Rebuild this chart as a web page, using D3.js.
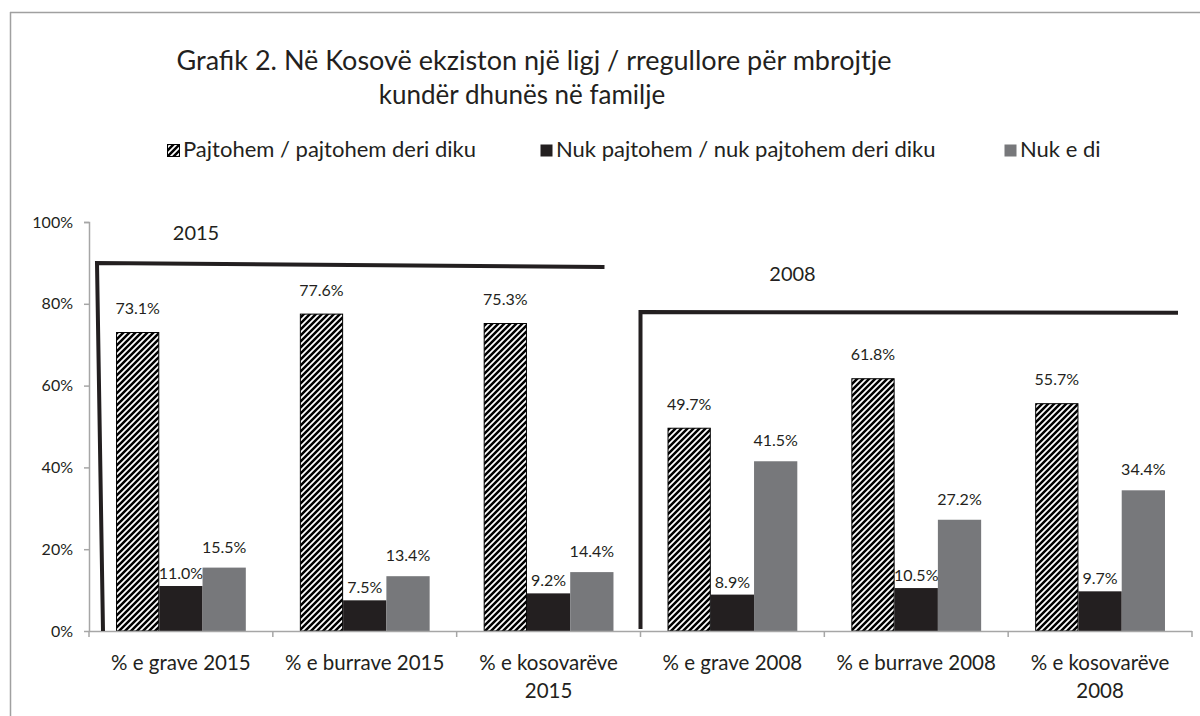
<!DOCTYPE html>
<html><head><meta charset="utf-8">
<script src="https://cdn.jsdelivr.net/npm/d3@7"></script>
<style>
html,body{margin:0;padding:0;background:#fff;}
svg{display:block;font-family:Lato, "Open Sans", sans-serif;}
</style></head>
<body>
<svg id="c" width="1200" height="716"></svg>
<script>
const categories = [["% e grave 2015"],["% e burrave 2015"],["% e kosovarëve","2015"],["% e grave 2008"],["% e burrave 2008"],["% e kosovarëve","2008"]];
const seriesNames = ["Pajtohem / pajtohem deri diku","Nuk pajtohem / nuk pajtohem deri diku","Nuk e di"];
const agree    = [73.1, 77.6, 75.3, 49.7, 61.8, 55.7];
const disagree = [11.0, 7.5, 9.2, 8.9, 10.5, 9.7];
const dontKnow = [15.5, 13.4, 14.4, 41.5, 27.2, 34.4];
const yTicks = [0, 20, 40, 60, 80, 100];
const titleLines = ["Grafik 2. Në Kosovë ekziston një ligj / rregullore për mbrojtje","kundër dhunës në familje"];
const periodLabels = ["2015","2008"];

const svg = d3.select("#c");
const txt = "#231f20";
const axisCol = "#a6a6a6";

// pattern
const defs = svg.append("defs");
const pat = defs.append("pattern").attr("id","hatch").attr("patternUnits","userSpaceOnUse")
  .attr("width",6).attr("height",6);
pat.append("rect").attr("width",6).attr("height",6).attr("fill","#fff");
pat.append("path").attr("d","M0,6 L6,0 M-2,2 L2,-2 M4,8 L8,4").attr("stroke","#000").attr("stroke-width",2.5);

const fills = ["url(#hatch)","#231f20","#77787b"];
const series = [agree, disagree, dontKnow];
const labelOffset = [24, 13, 21];

// frame
svg.append("line").attr("x1",10).attr("y1",12.5).attr("x2",1200).attr("y2",12.5).attr("stroke","#a0a0a0").attr("stroke-width",1.5);
svg.append("line").attr("x1",10.5).attr("y1",12).attr("x2",10.5).attr("y2",716).attr("stroke","#a0a0a0").attr("stroke-width",1.5);

// title
svg.append("text").attr("x",534).attr("y",70).attr("text-anchor","middle").attr("font-size",27).attr("fill",txt).text(titleLines[0]);
svg.append("text").attr("x",522).attr("y",104).attr("text-anchor","middle").attr("font-size",26).attr("fill",txt).text(titleLines[1]);

// scales
const catKeys = categories.map(c=>c.join(" "));
const x0 = d3.scaleBand().domain(catKeys).range([89,1192]);
const bw = x0.bandwidth();
const x1 = d3.scaleBand().domain(seriesNames).range([bw*0.147, bw*0.853]);
const y = d3.scaleLinear().domain([0,100]).range([631,222]);

// y axis
const yAxis = svg.append("g").attr("transform","translate(89,0)")
  .call(d3.axisLeft(y).tickValues(yTicks).tickFormat(d=>d+"%").tickSize(5).tickPadding(11));
yAxis.select(".domain").attr("stroke",axisCol).attr("stroke-width",1.5).attr("d","M-5,222.5H0.5V631.5");
yAxis.selectAll(".tick line").attr("stroke",axisCol).attr("stroke-width",1.5);
yAxis.selectAll(".tick text").attr("fill",txt).attr("font-size",16).attr("font-family","Lato, sans-serif");

// bars
catKeys.forEach((k,i)=>{
  series.forEach((s,j)=>{
    const v = s[i];
    const bx = x0(k)+x1(seriesNames[j]);
    svg.append("rect").attr("x",bx+ (j===0?0.5:0)).attr("y",y(v)+(j===0?0.5:0))
      .attr("width",x1.bandwidth()-(j===0?1:0)).attr("height",y(0)-y(v)-(j===0?0.5:0))
      .attr("fill",fills[j]).attr("stroke",j===0?"#000":"none").attr("stroke-width",1);
    svg.append("text").attr("x",bx+x1.bandwidth()/2).attr("y",y(v)-labelOffset[j]+6)
      .attr("text-anchor","middle").attr("font-size",16).attr("fill",txt).text(v.toFixed(1)+"%");
  });
});

// x axis
svg.append("line").attr("x1",89).attr("x2",1192).attr("y1",631.5).attr("y2",631.5).attr("stroke",axisCol).attr("stroke-width",1.5);
const bounds = catKeys.map(k=>x0(k)).concat([x0.range()[1]]);
bounds.forEach(b=>{
  svg.append("line").attr("x1",b).attr("x2",b).attr("y1",631).attr("y2",637).attr("stroke",axisCol).attr("stroke-width",1.5);
});
categories.forEach((c,i)=>{
  const t = svg.append("text").attr("x",x0(catKeys[i])+bw/2).attr("y",670).attr("text-anchor","middle").attr("font-size",20.5).attr("fill",txt);
  c.forEach((line,li)=>{
    t.append("tspan").attr("x",x0(catKeys[i])+bw/2).attr("dy",li===0?0:28).text(line);
  });
});

// period brackets
const g1s = x0(catKeys[0]), g1e = x0(catKeys[3]);
svg.append("path").attr("d",`M${g1s+14},${y(0)} L${g1s+8},${y(90)} L${g1e-36},${y(89)}`)
  .attr("fill","none").attr("stroke","#231f20").attr("stroke-width",4);
svg.append("path").attr("d",`M${g1e},${y(0.5)} L${g1e},${y(78)} L${x0.range()[1]-14},${y(77.8)}`)
  .attr("fill","none").attr("stroke","#231f20").attr("stroke-width",4);
svg.append("text").attr("x",g1s+107).attr("y",y(95.5)).attr("text-anchor","middle").attr("font-size",20).attr("fill",txt).text(periodLabels[0]);
svg.append("text").attr("x",g1e+152).attr("y",y(85.5)).attr("text-anchor","middle").attr("font-size",20).attr("fill",txt).text(periodLabels[1]);

// legend
const legX = [167, 540, 1004];
seriesNames.forEach((n,j)=>{
  svg.append("rect").attr("x",legX[j]+0.5).attr("y",144.5).attr("width",12).attr("height",12).attr("fill",fills[j]).attr("stroke",j===0?"#000":"none");
  svg.append("text").attr("x",legX[j]+16).attr("y",157).attr("font-size",22).attr("fill",txt).text(n);
});
</script>
</body></html>
